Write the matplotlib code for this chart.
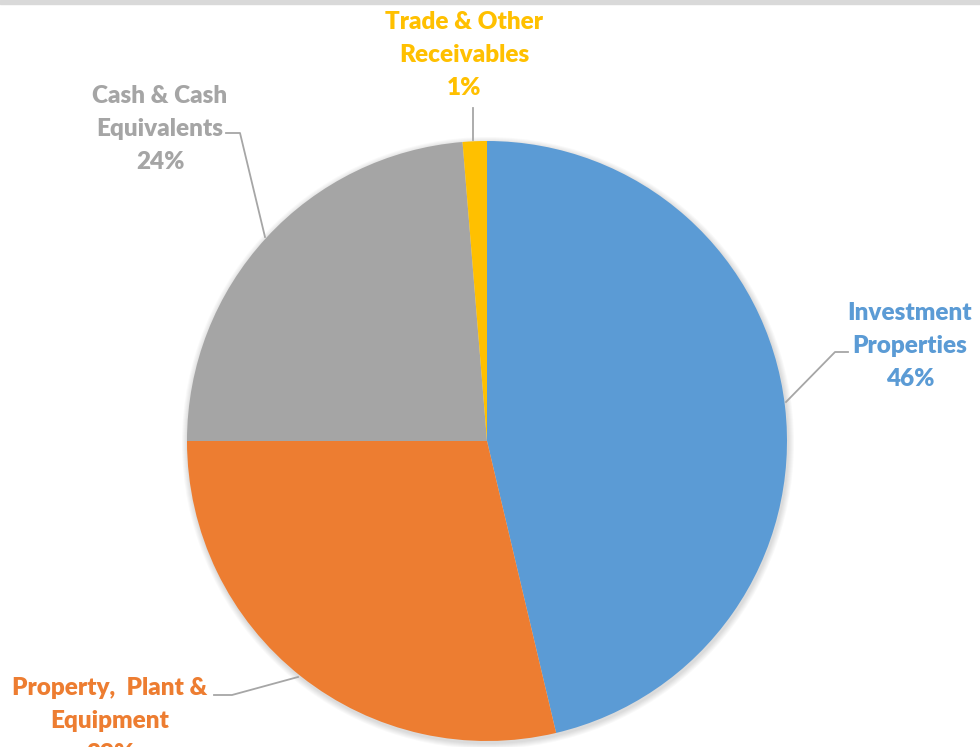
import matplotlib.pyplot as plt
from matplotlib.patches import Circle, Rectangle

# data (clockwise from 12 o'clock)
labels = ['Investment\nProperties\n46%', 'Property,  Plant &\nEquipment\n29%',
          'Cash & Cash\nEquivalents\n24%', 'Trade & Other\nReceivables\n1%']
values = [46.3, 28.7, 23.7, 1.3]
colors = ['#5B9BD5', '#ED7D31', '#A5A5A5', '#FFC000']

W, H = 980, 747
fig = plt.figure(figsize=(9.8, 7.47), dpi=100)
ax = fig.add_axes([0, 0, 1, 1])

cx, cy, r = 487, H - 441, 300

# soft shadow
for i in range(6):
    ax.add_patch(Circle((cx + 1, cy - 2), r + 1 + i, color='black', alpha=0.025, lw=0, zorder=0))

ax.pie(values, colors=colors, startangle=90, counterclock=False,
       center=(cx, cy), radius=r, frame=True,
       wedgeprops=dict(linewidth=0))
ax.set_xlim(0, W)
ax.set_ylim(0, H)
ax.set_aspect('equal')
ax.axis('off')

# leader lines (pixel coords, y from top)
leaders = [
    [(786, 402), (835, 352), (848, 352)],
    [(298, 677), (232, 695), (214, 695)],
    [(265, 237), (240, 133), (226, 133)],
    [(473, 140), (473, 108)],
]
for pts in leaders:
    xs = [p[0] for p in pts]
    ys = [H - p[1] for p in pts]
    ax.plot(xs, ys, color='#A6A6A6', lw=1.3, zorder=3)

text_pos = [(910, 346), (110, 721), (160, 129), (464, 55)]
for lab, col, (tx, ty) in zip(labels, colors, text_pos):
    ax.text(tx, H - ty, lab, color=col, ha='center', va='center',
            fontsize=17.5, fontweight='heavy', family='Lato', linespacing=1.6)

# grey band at the top
fig.patches.append(Rectangle((0, 1 - 4 / H), 1, 4 / H, transform=fig.transFigure,
                             color='#D9D9D9', zorder=0))

fig.savefig('out.png', dpi=100)
